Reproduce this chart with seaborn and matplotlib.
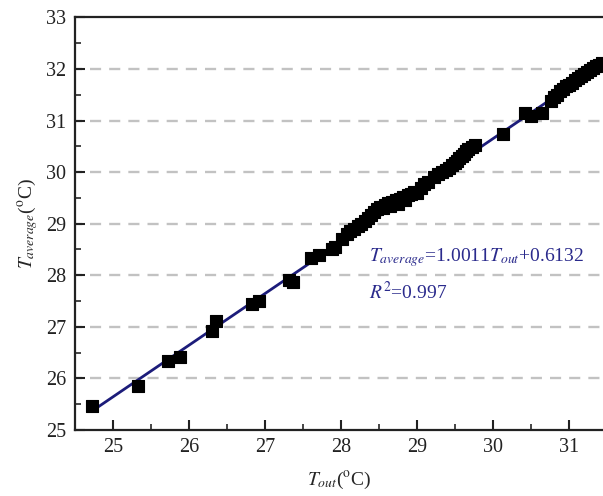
import numpy as np
import pandas as pd
import matplotlib
matplotlib.use("Agg")
import matplotlib.pyplot as plt
from matplotlib.ticker import MultipleLocator
import seaborn as sns

# ---- data ----
t_out = [24.73, 25.33, 25.73, 25.89, 26.30, 26.36, 26.83, 26.93, 27.32, 27.37,
         27.61, 27.71, 27.88, 27.93, 28.02, 28.08, 28.12, 28.17, 28.22, 28.27,
         28.32, 28.36, 28.40, 28.44, 28.48, 28.52, 28.55, 28.58, 28.62, 28.65,
         28.68, 28.72, 28.75, 28.78, 28.82, 28.85, 28.88, 28.92, 28.96, 29.00,
         29.05, 29.10, 29.15, 29.22, 29.28, 29.33, 29.38, 29.42, 29.46, 29.50,
         29.53, 29.56, 29.59, 29.62, 29.65, 29.68, 29.72, 29.76, 30.13, 30.42,
         30.50, 30.65, 30.77, 30.80, 30.84, 30.88, 30.92, 30.96, 31.00, 31.04,
         31.08, 31.12, 31.16, 31.20, 31.24, 31.28, 31.32, 31.36, 31.40, 31.44]
t_avg = [25.47, 25.86, 26.33, 26.41, 26.92, 27.12, 27.45, 27.51, 27.91, 27.87,
         28.33, 28.39, 28.50, 28.55, 28.70, 28.80, 28.86, 28.90, 28.95, 29.00,
         29.05, 29.12, 29.17, 29.22, 29.28, 29.33, 29.30, 29.36, 29.40, 29.35,
         29.42, 29.45, 29.38, 29.48, 29.52, 29.45, 29.55, 29.58, 29.62, 29.60,
         29.70, 29.76, 29.80, 29.90, 29.96, 30.00, 30.05, 30.08, 30.14, 30.18,
         30.22, 30.28, 30.32, 30.36, 30.40, 30.45, 30.48, 30.52, 30.73, 31.15,
         31.09, 31.15, 31.38, 31.45, 31.50, 31.58, 31.62, 31.66, 31.68, 31.72,
         31.78, 31.82, 31.86, 31.90, 31.94, 31.98, 32.02, 32.05, 32.08, 32.12]
slope = 1.0011
intercept = 0.6132
r2 = 0.997
fit_x = [24.73, 31.6]
x_ticks = [25, 26, 27, 28, 29, 30, 31]
y_ticks = [25, 26, 27, 28, 29, 30, 31, 32, 33]

df = pd.DataFrame({"x": t_out, "y": t_avg})
fit_df = pd.DataFrame({"x": fit_x, "y": [slope * v + intercept for v in fit_x]})

sns.set_theme(style="ticks")
plt.rcParams["font.family"] = ["Liberation Serif", "DejaVu Serif"]
plt.rcParams["mathtext.fontset"] = "stix"
plt.rcParams["lines.scale_dashes"] = False

fig = plt.figure(figsize=(6.03, 4.96), dpi=100)
ax = fig.add_axes([0.124, 0.133, 0.876, 0.832])

# grid lines
for yv in y_ticks[1:-1]:
    ax.axhline(yv, color="#c2c2c2", lw=1.7, ls=(3, (8.0, 5.8)), zorder=0)

sns.lineplot(data=fit_df, x="x", y="y", ax=ax, color="#1c1c7a", lw=2.0, zorder=2)
sns.scatterplot(data=df, x="x", y="y", ax=ax, marker="s", s=70, color="black",
                edgecolor="black", linewidth=0.8, zorder=3)

ax.set_xlim(24.5, 31.45)
ax.set_ylim(25, 33)
ax.set_xticks(x_ticks)
ax.set_yticks(y_ticks)
ax.xaxis.set_minor_locator(MultipleLocator(0.5))
ax.yaxis.set_minor_locator(MultipleLocator(0.5))
ax.tick_params(which="major", direction="in", length=7, width=1.5,
               labelsize=14.5, colors="#222222", pad=6)
ax.tick_params(which="minor", direction="in", length=4, width=1.2)
ax.tick_params(axis="x", which="both", top=False)
ax.tick_params(axis="y", which="both", right=False)

for side in ["left", "bottom", "top"]:
    ax.spines[side].set_linewidth(1.6)
    ax.spines[side].set_color("#222222")
ax.spines["right"].set_visible(False)

ax.set_xlabel(r"$T_{out}$($^{\mathrm{o}}$C)", fontsize=14, labelpad=9)
ax.set_ylabel(r"$T_{average}$($^{\mathrm{o}}$C)", fontsize=14, labelpad=4)

ax.text(28.37, 28.35,
        r"$T_{average}$=1.0011$T_{out}$+0.6132".replace("1.0011", f"{slope:.4f}").replace("0.6132", f"{intercept:.4f}"),
        color="#2a2a8c", fontsize=14, va="center", ha="left")
ax.text(28.37, 27.68, rf"$R^{{2}}$={r2:.3f}", color="#2a2a8c", fontsize=14,
        va="center", ha="left")

fig.savefig("out.png", dpi=100)
